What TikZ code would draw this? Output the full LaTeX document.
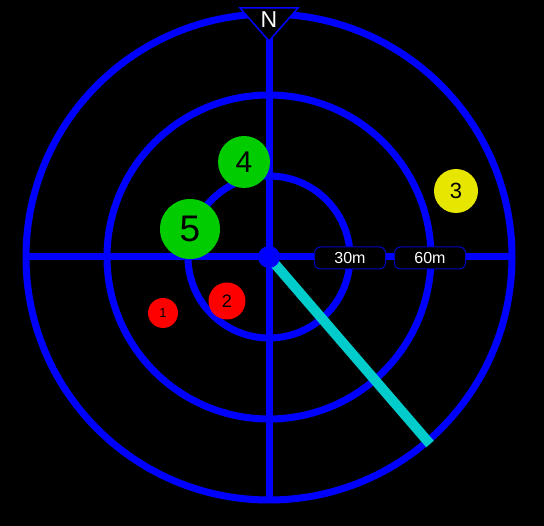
\documentclass[tikz,border=0pt]{standalone}
\usepackage{fontspec}
\setmainfont{Liberation Sans}
\begin{document}
\begin{tikzpicture}[x=1pt,y=-1pt,
  ring/.style={draw=blue,line width=7pt},
  axis/.style={draw=blue,line width=7pt},
  marker/.style={circle,inner sep=0pt,text=black},
  dist/.style={draw={rgb,255:red,0;green,0;blue,190},line width=1pt,fill=black,rounded corners=6pt,
     minimum width=71pt,minimum height=22pt,inner sep=0pt,text=white,font=\fontsize{16}{16}\selectfont}]
\useasboundingbox[fill=black] (0,0) rectangle (544,526);
\coordinate (o) at (269,257);
\draw[ring] (o) circle[radius=81];
\draw[ring] (o) circle[radius=162];
\draw[ring] (o) circle[radius=243];
\coordinate (top) at (269,12);
\coordinate (bot) at (269,500);
\coordinate (lft) at (26,257);
\coordinate (rgt) at (512,257);
\draw[axis] (top) -- (bot);
\draw[axis] (lft) -- (rgt);
\coordinate (e) at (430,444);
\draw[draw={rgb,255:red,0;green,204;blue,204},line width=10pt] (o) -- (e);
\node[circle,fill=blue,minimum size=22pt,inner sep=0pt] (c) at (o) {};
\node[marker,fill={rgb,255:red,0;green,204;blue,0},minimum size=52pt,font=\fontsize{30}{30}\selectfont] (m4) at (244,162) {4};
\node[marker,fill={rgb,255:red,0;green,204;blue,0},minimum size=60pt,font=\fontsize{37}{37}\selectfont] (m5) at (190,229) {5};
\node[marker,fill={rgb,255:red,230;green,230;blue,0},minimum size=44pt,font=\fontsize{22}{22}\selectfont] (m3) at (456,191) {3};
\node[marker,fill=red,minimum size=37pt,font=\fontsize{18}{18}\selectfont] (m2) at (227,301) {2};
\node[marker,fill=red,minimum size=30pt,font=\fontsize{13}{13}\selectfont] (m1) at (163,313) {1};
\node[dist] (d30) at (350,258) {30m};
\node[dist] (d60) at (430,258) {60m};
\draw[draw=blue,line width=1.5pt,fill=black] (240,8) -- (298,8) -- (269,41) -- cycle;
\node[text=white,font=\fontsize{23}{23}\selectfont] (n) at (269,20) {N};
\end{tikzpicture}
\end{document}
